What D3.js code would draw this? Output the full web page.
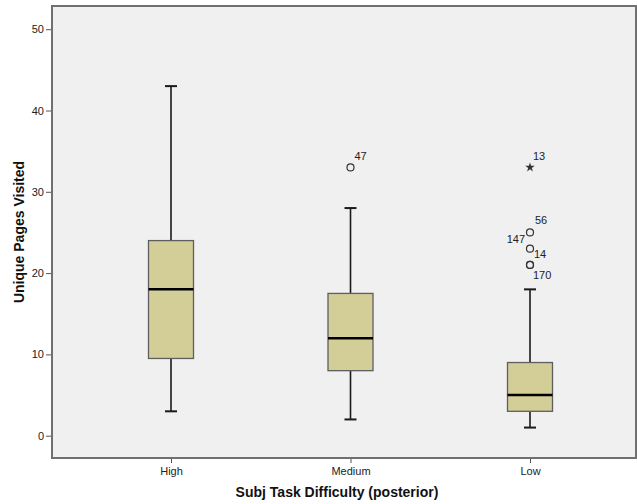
<!DOCTYPE html>
<html>
<head>
<meta charset="utf-8">
<script src="https://cdn.jsdelivr.net/npm/d3@7"></script>
<style>
  html, body { margin: 0; padding: 0; background: #ffffff; }
  svg { display: block; }
  text { font-family: "Liberation Sans", Arial, sans-serif; }
</style>
</head>
<body>
<svg id="chart" width="637" height="504"></svg>
<script>
// ---- data ----
const categories = ["High", "Medium", "Low"];
const whiskerLow  = [3, 2, 1];
const q1          = [9.5, 8, 3];
const medians     = [18, 12, 5];
const q3          = [24, 17.5, 9];
const whiskerHigh = [43, 28, 18];
// outliers: category, value, case label, kind
const outlierCat   = ["Medium", "Low", "Low", "Low", "Low", "Low"];
const outlierVal   = [33, 33, 25, 23, 21, 21];
const outlierLabel = ["47", "13", "56", "147", "14", "170"];
const outlierKind  = ["circle", "star", "circle", "circle", "circle", "circle"];
const yTicks = [0, 10, 20, 30, 40, 50];
const xTitle = "Subj Task Difficulty (posterior)";
const yTitle = "Unique Pages Visited";

// ---- layout ----
const plot = { left: 52, top: 6, right: 636, bottom: 458 };
const svg = d3.select("#chart");

const y = d3.scaleLinear().domain([0, 50]).range([435.7, 29.2]);
const x = d3.scalePoint().domain(categories).range([171, 530]);

// background
svg.append("rect").attr("x", plot.left).attr("y", plot.top)
  .attr("width", plot.right - plot.left).attr("height", plot.bottom - plot.top)
  .attr("fill", "#f0f0f0");

// axes
const yAxis = d3.axisLeft(y).tickValues(yTicks).tickSize(6).tickPadding(2).tickFormat(d3.format("d"));
const gy = svg.append("g").attr("transform", `translate(${plot.left},0)`).call(yAxis);
gy.select(".domain").remove();
gy.selectAll(".tick line").attr("stroke", "#555").attr("stroke-width", 1);
gy.selectAll(".tick text").attr("fill", "#222").style("font-size", "11px");

const xAxis = d3.axisBottom(x).tickSize(5).tickPadding(4);
const gx = svg.append("g").attr("transform", `translate(0,${plot.bottom})`).call(xAxis);
gx.select(".domain").remove();
gx.selectAll(".tick line").attr("stroke", "#555").attr("stroke-width", 1);
gx.selectAll(".tick text").attr("fill", "#222").style("font-size", "11px");

// frame
svg.append("rect").attr("x", plot.left).attr("y", plot.top)
  .attr("width", plot.right - plot.left).attr("height", plot.bottom - plot.top)
  .attr("fill", "none").attr("stroke", "#707070").attr("stroke-width", 2);

// boxes
const boxW = 45, capW = 12;
const stats = categories.map((c, i) => ({
  c, lo: whiskerLow[i], q1: q1[i], med: medians[i], q3: q3[i], hi: whiskerHigh[i]
}));
const g = svg.append("g");
stats.forEach(s => {
  const cx = x(s.c);
  g.append("line").attr("x1", cx).attr("x2", cx).attr("y1", y(s.hi)).attr("y2", y(s.q3))
    .attr("stroke", "#1a1a1a").attr("stroke-width", 1.6);
  g.append("line").attr("x1", cx).attr("x2", cx).attr("y1", y(s.q1)).attr("y2", y(s.lo))
    .attr("stroke", "#1a1a1a").attr("stroke-width", 1.6);
  [s.hi, s.lo].forEach(v => {
    g.append("line").attr("x1", cx - capW / 2).attr("x2", cx + capW / 2)
      .attr("y1", y(v)).attr("y2", y(v)).attr("stroke", "#1a1a1a").attr("stroke-width", 2);
  });
  g.append("rect").attr("x", cx - boxW / 2).attr("y", y(s.q3))
    .attr("width", boxW).attr("height", y(s.q1) - y(s.q3))
    .attr("fill", "#d3ce98").attr("stroke", "#5e5e5e").attr("stroke-width", 1.3);
  g.append("line").attr("x1", cx - boxW / 2).attr("x2", cx + boxW / 2)
    .attr("y1", y(s.med)).attr("y2", y(s.med)).attr("stroke", "#000").attr("stroke-width", 2.5);
});

// outliers
const labelOffsets = { "47": [4, -7, "start"], "13": [3, -7, "start"], "56": [5, -8, "start"],
  "147": [-5, -6, "end"], "14": [4, -7, "start"], "170": [3, 14, "start"] };
outlierVal.forEach((v, i) => {
  const cx = x(outlierCat[i]), cy = y(v);
  if (outlierKind[i] === "circle") {
    g.append("circle").attr("cx", cx).attr("cy", cy).attr("r", 3.5)
      .attr("fill", "none").attr("stroke", "#333").attr("stroke-width", 1.2);
  } else {
    g.append("path").attr("d", d3.symbol().type(d3.symbolStar).size(28)())
      .attr("transform", `translate(${cx},${cy})`).attr("fill", "#333");
  }
  const o = labelOffsets[outlierLabel[i]];
  g.append("text").attr("x", cx + o[0]).attr("y", cy + o[1]).attr("text-anchor", o[2])
    .attr("fill", "#222").style("font-size", "11px").text(outlierLabel[i]);
});

// titles
svg.append("text").attr("x", 337).attr("y", 497).attr("text-anchor", "middle")
  .style("font-size", "14px").style("font-weight", "bold").attr("fill", "#111").text(xTitle);
svg.append("text").attr("transform", "translate(24,232) rotate(-90)").attr("text-anchor", "middle")
  .style("font-size", "14px").style("font-weight", "bold").attr("fill", "#111").text(yTitle);
</script>
</body>
</html>
